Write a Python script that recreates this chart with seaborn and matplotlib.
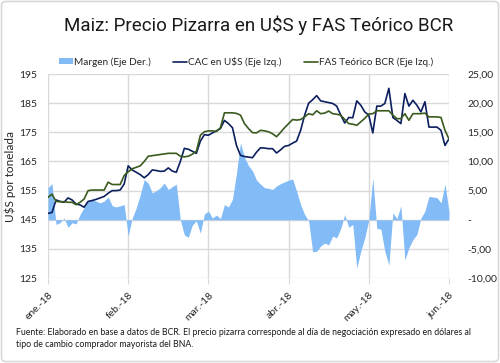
import matplotlib
matplotlib.use("Agg")
import matplotlib.pyplot as plt
import matplotlib.ticker as mticker
from matplotlib.lines import Line2D
from matplotlib.patches import Patch, FancyBboxPatch
import numpy as np
import pandas as pd
import seaborn as sns

# --- data (one point per trading day, ~20 per month) ---
cac = [
    147.2, 147.5, 151.8, 151.3, 151.0, 152.5, 151.8, 150.4, 150.1, 149.3,
    151.3, 151.6, 152.0, 152.5, 153.0, 154.1, 155.0, 155.0, 155.2, 157.3,
    163.5, 162.1, 161.3, 160.5, 159.4, 160.5, 162.1, 161.9, 161.6, 161.7,
    162.8, 161.7, 161.3, 165.0, 169.5, 169.2, 168.5, 167.8, 172.0, 174.2,
    174.0, 174.8, 175.5, 176.3, 179.1, 178.0, 176.6, 170.5, 167.1, 166.7,
    166.5, 166.3, 168.2, 169.7, 169.6, 169.4, 169.4, 167.9, 169.0, 170.2,
    170.5, 171.3, 172.0, 175.7, 180.9, 185.0, 186.2, 187.6, 185.8, 185.5,
    185.2, 184.9, 184.0, 180.9, 178.2, 180.1, 180.0, 185.8, 184.3, 182.0,
    180.9, 174.8, 184.0, 184.0, 184.9, 190.1, 180.1, 179.1, 178.0, 188.3,
    184.0, 186.0, 184.3, 182.0, 185.5, 176.8, 176.8, 176.8, 175.7, 170.5, 172.8,
]
fas = [
    152.7, 153.8, 151.3, 151.2, 151.2, 151.0, 151.0, 150.2, 151.0, 152.1,
    155.0, 155.2, 155.2, 155.2, 155.2, 157.9, 157.1, 157.1, 157.1, 160.2,
    161.5, 162.5, 163.0, 163.5, 165.0, 166.8, 167.0, 167.2, 167.4, 167.6,
    167.8, 167.8, 167.8, 166.8, 166.6, 166.8, 167.5, 168.5, 174.0, 175.2,
    175.5, 175.5, 175.3, 176.6, 181.7, 181.7, 181.7, 181.5, 180.9, 178.0,
    176.3, 174.9, 174.8, 175.7, 175.5, 175.2, 174.5, 173.5, 175.0, 176.6,
    178.0, 179.4, 179.2, 179.4, 180.3, 181.4, 181.0, 182.4, 181.4, 181.6,
    182.3, 181.4, 181.2, 180.9, 179.4, 178.0, 177.8, 177.4, 178.6, 179.8,
    181.3, 181.4, 182.4, 182.4, 182.4, 182.4, 180.9, 179.7, 179.7, 181.4,
    179.1, 181.4, 181.4, 181.4, 181.6, 180.3, 180.3, 180.3, 180.1, 175.7, 172.7,
]
margen = [
    5.5, 6.2, -0.8, -0.5, 0.3, -1.3, -0.5, -0.7, 0.9, 2.1,
    3.2, 3.5, 3.2, 2.9, 3.2, 3.9, 2.4, 2.2, 2.4, 2.6,
    -2.8, 0.3, 2.0, 4.3, 6.9, 6.3, 4.6, 5.0, 5.5, 6.3,
    5.2, 5.7, 6.1, 0.0, -2.6, -3.0, -0.9, -0.2, -2.3, 1.0,
    1.5, 0.3, 0.8, 0.2, 2.6, 2.2, 3.5, 8.0, 13.2, 10.7,
    9.3, 8.4, 6.8, 6.1, 5.5, 5.4, 5.2, 5.8, 6.2, 6.5,
    6.8, 7.0, 4.9, 2.6, 0.9, -0.2, -5.5, -5.4, -4.5, -4.0,
    -4.3, -2.8, -3.1, -1.5, 0.9, -1.3, -0.8, -8.3, -5.4, -3.1,
    0.0, 7.2, -1.5, -1.6, -5.4, -7.8, 1.2, 0.2, 2.4, -6.9,
    -4.8, -3.4, -2.5, 0.3, 1.5, 4.0, 3.9, 3.8, 2.9, 6.1, 1.5,
]
month_pos = [0, 20, 40, 60, 80, 100]
month_labels = ["ene.-18", "feb.-18", "mar.-18", "abr.-18", "may.-18", "jun.-18"]
left_ticks = [125, 135, 145, 155, 165, 175, 185, 195]
right_ticks = [-10, -5, 0, 5, 10, 15, 20, 25]

df = pd.DataFrame({"dia": np.arange(len(cac)), "cac": cac, "fas": fas, "margen": margen})

sns.set_theme(style="white")
plt.rcParams["font.family"] = ["Lato", "DejaVu Sans"]

C_CAC = "#0c1f5e"
C_FAS = "#3a5a1e"
C_MARGEN = "#82bbf6"
C_GRID = "#d9d9d9"
C_TXT = "#262626"

fig = plt.figure(figsize=(5, 3.63), dpi=100)
fig.patch.set_facecolor("white")
ax = fig.add_axes([0.096, 0.234, 0.802, 0.562])
ax2 = ax.twinx()

# back axis: margin area + grid
ax2.set_zorder(1)
ax.set_zorder(2)
ax.patch.set_visible(False)
ax2.patch.set_visible(True)
ax2.patch.set_facecolor("white")
ax2.fill_between(df["dia"], 0, df["margen"], color=C_MARGEN, linewidth=0, zorder=2)
ax2.set_ylim(-10, 25)
ax2.set_yticks(right_ticks)
ax2.yaxis.set_major_formatter(mticker.FuncFormatter(
    lambda v, p: "-" if v == 0 else f"{v:.2f}".replace(".", ",")))
ax2.xaxis.set_visible(True)
ax2.tick_params(axis="x", bottom=False, labelbottom=False, top=False, labeltop=False, length=0)
ax2.grid(True, color=C_GRID, linewidth=1.0, zorder=0)
ax2.set_axisbelow(True)
ax2.tick_params(axis="y", right=False, length=0, labelsize=7.5, pad=13, colors=C_TXT)
for lab in ax2.get_yticklabels():
    lab.set_horizontalalignment("left")

# front axis: lines
sns.lineplot(data=df, x="dia", y="cac", ax=ax, color=C_CAC, linewidth=1.2)
sns.lineplot(data=df, x="dia", y="fas", ax=ax, color=C_FAS, linewidth=1.2)
ax.set_ylim(125, 195)
ax.set_yticks(left_ticks)
ax.set_xlim(month_pos[0], month_pos[-1])
ax2.set_xlim(month_pos[0], month_pos[-1])
ax.set_xticks(month_pos)
ax2.set_xticks(month_pos)
ax.set_xticklabels(month_labels, rotation=45, ha="right", rotation_mode="anchor", fontsize=7.5, color=C_TXT)
ax.tick_params(axis="x", bottom=True, length=4, width=0.8, color=C_GRID, pad=5)
ax.tick_params(axis="y", left=False, length=0, labelsize=7.5, colors=C_TXT, pad=8)
ax.set_xlabel("")
ax.set_ylabel("U$S por tonelada", fontsize=8.5, color=C_TXT)
ax.yaxis.set_label_coords(-0.08, 0.5)
for a in (ax, ax2):
    for s in a.spines.values():
        s.set_visible(False)
ax.grid(False)

# title and legend
fig.text(0.518, 0.931, "Maiz: Precio Pizarra en U$S y FAS Teórico BCR",
         ha="center", va="center", fontsize=13.5,
         family=["Roboto", "DejaVu Sans"], color="#1a1a1a")
handles = [
    Patch(facecolor=C_MARGEN, edgecolor="none"),
    Line2D([0], [0], color=C_CAC, linewidth=1.2),
    Line2D([0], [0], color=C_FAS, linewidth=1.2),
]
fig.legend(handles, ["Margen (Eje Der.)", "CAC en U$S (Eje Izq.)", "FAS Teórico BCR (Eje Izq.)"],
           loc="center", bbox_to_anchor=(0.492, 0.83), ncol=3, frameon=False,
           fontsize=7.2, handlelength=1.4, handleheight=0.5, handletextpad=0.1, columnspacing=2.2)

fig.text(0.032, 0.068,
         "Fuente: Elaborado en base a datos de BCR. El precio pizarra corresponde al día de negociación expresado en dólares al\n"
         "tipo de cambio comprador mayorista del BNA.",
         ha="left", va="center", fontsize=6.3, linespacing=1.5, color="#1a1a1a")

# outer frame
fig.patches.append(FancyBboxPatch((0.003, 0.004), 0.994, 0.992, boxstyle="round,pad=0,rounding_size=0.01",
                                  transform=fig.transFigure, fill=False, edgecolor=C_GRID, linewidth=1.2))

fig.savefig("out.png", dpi=100)
